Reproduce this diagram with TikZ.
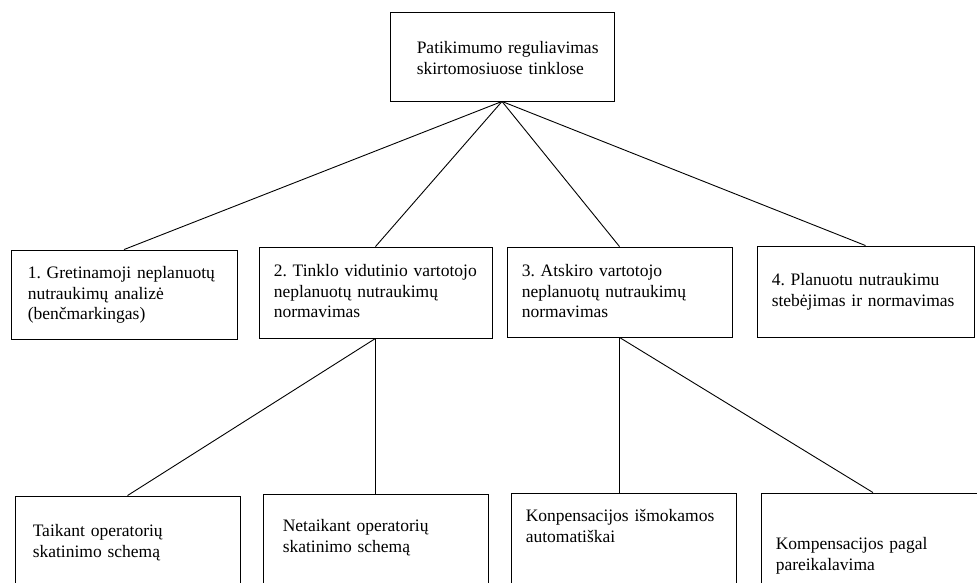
\documentclass[tikz,border=0pt]{standalone}
\usepackage{fontspec}
\setmainfont{Liberation Serif}
\usepackage{tikz}
\usetikzlibrary{positioning}
\frenchspacing

\tikzset{
  box/.style={draw=black, line width=0.9pt, inner sep=0pt},
  txt/.style={anchor=base west, inner sep=0pt, text width=215pt, align=left,
    font=\fontsize{17.5}{20.5}\selectfont},
  conn/.style={draw=black, line width=0.9pt}
}

\begin{document}
\begin{tikzpicture}[x=1pt,y=-1pt]
  \useasboundingbox (0,0) rectangle (977,583);
  \clip (0,0) rectangle (977,583);
  % top box
  \node[box, minimum width=224pt, minimum height=89pt] (top) at (502,56.5) {};
  % second row
  \node[box, minimum width=226pt, minimum height=89pt] (gret) at (124,294.5) {}; % 1
  \node[box, minimum width=233pt, minimum height=91pt] (vidut) at (375.5,292.5) {}; % 2
  \node[box, minimum width=225pt, minimum height=90pt] (atsk) at (619.5,292) {}; % 3
  \node[box, minimum width=217pt, minimum height=91pt] (plan) at (865.5,291.5) {}; % 4
  % bottom row (cut by the page edge)
  \node[box, minimum width=225pt, minimum height=100pt] (taik) at (127.5,546) {};
  \node[box, minimum width=225pt, minimum height=100pt] (netaik) at (375.5,544) {};
  \node[box, minimum width=225pt, minimum height=100pt] (autom) at (623.5,543) {};
  \node[box, minimum width=224pt, minimum height=100pt] (pareik) at (873,543) {};

  % texts
  \node[txt] (toptxt) at ([shift={(27,42)}]top.north west) {Patikimumo reguliavimas\\skirtomosiuose tinklose};
  \node[txt] (grettxt) at ([shift={(17,29)}]gret.north west) {1. Gretinamoji neplanuotų\\nutraukimų analizė\\(benčmarkingas)};
  \node[txt] (viduttxt) at ([shift={(15,30)}]vidut.north west) {2. Tinklo vidutinio vartotojo\\neplanuotų nutraukimų\\normavimas};
  \node[txt] (atsktxt) at ([shift={(15,30)}]atsk.north west) {3. Atskiro vartotojo\\neplanuotų nutraukimų\\normavimas};
  \node[txt] (plantxt) at ([shift={(15,40)}]plan.north west) {4. Planuotu nutraukimu\\stebėjimas ir normavimas};
  \node[txt] (taiktxt) at ([shift={(18,41)}]taik.north west) {Taikant operatorių\\skatinimo schemą};
  \node[txt] (netaiktxt) at ([shift={(20,38)}]netaik.north west) {Netaikant operatorių\\skatinimo schemą};
  \node[txt] (automtxt) at ([shift={(15,29)}]autom.north west) {Konpensacijos išmokamos\\automatiškai};
  \node[txt] (pareiktxt) at ([shift={(15,57)}]pareik.north west) {Kompensacijos pagal\\pareikalavima};

  % connectors
  \draw[conn] (top.south) -- (gret.north);
  \draw[conn] (top.south) -- (vidut.north);
  \draw[conn] (top.south) -- (atsk.north);
  \draw[conn] (top.south) -- (plan.north);
  \draw[conn] (vidut.south) -- (taik.north);
  \draw[conn] (vidut.south) -- (vidut.south |- netaik.north);
  \draw[conn] (atsk.south) -- (atsk.south |- autom.north);
  \draw[conn] (atsk.south) -- (pareik.north);
\end{tikzpicture}
\end{document}
